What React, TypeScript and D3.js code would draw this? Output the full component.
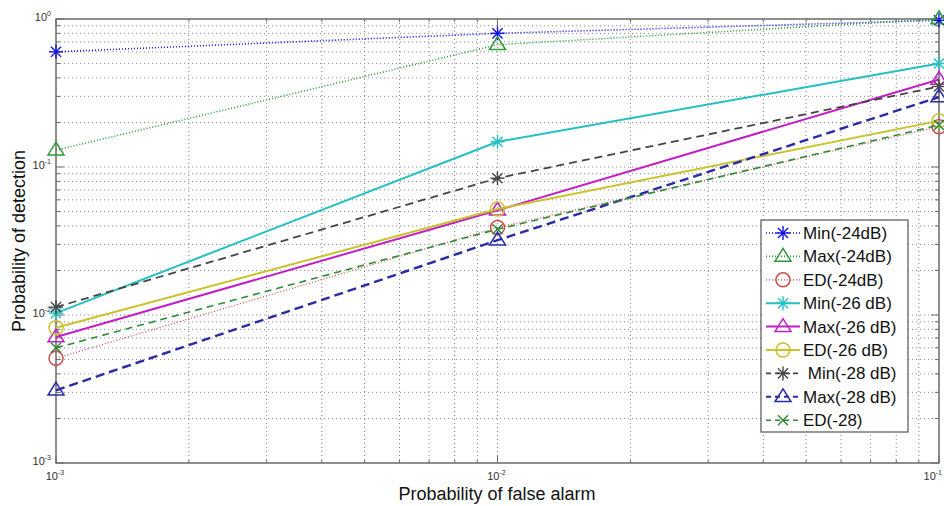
import React from 'react';
import * as d3 from 'd3';

// x values (probability of false alarm)
const pfa = [0.001, 0.01, 0.1];

// detection probabilities per series
const min24 = [0.6, 0.8, 0.98];
const max24 = [0.13, 0.67, 1.0];
const ed24 = [0.0051, 0.039, 0.187];
const min26 = [0.0103, 0.148, 0.5];
const max26 = [0.0071, 0.051, 0.39];
const ed26 = [0.0082, 0.052, 0.205];
const min28 = [0.0113, 0.084, 0.35];
const max28 = [0.0031, 0.032, 0.297];
const ed28 = [0.006, 0.038, 0.192];

const seriesNames = [
  'Min(-24dB)', 'Max(-24dB)', 'ED(-24dB)',
  'Min(-26 dB)', 'Max(-26 dB)', 'ED(-26 dB)',
  ' Min(-28 dB)', 'Max(-28 dB)', 'ED(-28)',
];

const xTickExp = ['-3', '-2', '-1'];
const yTickExp = ['0', '-1', '-2', '-3'];

type Marker = 'star' | 'tri' | 'circle' | 'x';

const styles: { color: string; dash: string; width: number; marker: Marker }[] = [
  { color: '#1010e0', dash: '1,2', width: 1.6, marker: 'star' },
  { color: '#2e9a3a', dash: '1,2', width: 1.6, marker: 'tri' },
  { color: '#d04848', dash: '1,2', width: 1.2, marker: 'circle' },
  { color: '#22c0c4', dash: '', width: 2, marker: 'star' },
  { color: '#c21fc4', dash: '', width: 2, marker: 'tri' },
  { color: '#c9c22a', dash: '', width: 2, marker: 'circle' },
  { color: '#454545', dash: '8,5', width: 1.8, marker: 'star' },
  { color: '#2a2aa8', dash: '9,5', width: 2.4, marker: 'tri' },
  { color: '#2f8a3a', dash: '7,5', width: 1.6, marker: 'x' },
];

const allSeries = [min24, max24, ed24, min26, max26, ed26, min28, max28, ed28];

const W = 944;
const H = 506;
const m = { left: 56, right: 939, top: 19, bottom: 463 };

function MarkerShape({ type, cx, cy, color }: { type: Marker; cx: number; cy: number; color: string }) {
  if (type === 'star') {
    const r = 7;
    const d = r * 0.72;
    return (
      <g stroke={color} strokeWidth={1.4}>
        <line x1={cx - r} y1={cy} x2={cx + r} y2={cy} />
        <line x1={cx} y1={cy - r} x2={cx} y2={cy + r} />
        <line x1={cx - d} y1={cy - d} x2={cx + d} y2={cy + d} />
        <line x1={cx - d} y1={cy + d} x2={cx + d} y2={cy - d} />
      </g>
    );
  }
  if (type === 'x') {
    const d = 5;
    return (
      <g stroke={color} strokeWidth={1.5}>
        <line x1={cx - d} y1={cy - d} x2={cx + d} y2={cy + d} />
        <line x1={cx - d} y1={cy + d} x2={cx + d} y2={cy - d} />
      </g>
    );
  }
  if (type === 'circle') {
    return <circle cx={cx} cy={cy} r={7} fill="none" stroke={color} strokeWidth={1.5} />;
  }
  const s = 8;
  return (
    <path
      d={`M${cx},${cy - s}L${cx + s},${cy + s * 0.6}L${cx - s},${cy + s * 0.6}Z`}
      fill="none"
      stroke={color}
      strokeWidth={1.5}
    />
  );
}

export default function App() {
  const x = d3.scaleLog().domain([1e-3, 1e-1]).range([m.left, m.right]);
  const y = d3.scaleLog().domain([1e-3, 1]).range([m.bottom, m.top]);

  const minorX: number[] = [];
  const minorY: number[] = [];
  for (let e = -3; e < -1; e++) for (let k = 2; k <= 9; k++) minorX.push(k * Math.pow(10, e));
  for (let e = -3; e < 0; e++) for (let k = 2; k <= 9; k++) minorY.push(k * Math.pow(10, e));
  const majorX = [1e-3, 1e-2, 1e-1];
  const majorY = [1e-3, 1e-2, 1e-1, 1];

  const line = d3
    .line<number>()
    .x((_, i) => x(pfa[i]))
    .y((d) => y(d));

  const gridColor = '#8a8a8a';
  const axisColor = '#6a6a6a';
  const font = 'Arial, "Liberation Sans", sans-serif';

  const legX = 761;
  const legY = 220;
  const legW = 147;
  const legH = 212;
  const rowH = 23.4;

  return (
    <div style={{ position: 'absolute', left: 0, top: 0 }}>
      <svg width={W} height={H} style={{ display: 'block', background: '#fff' }} fontFamily={font}>
        {/* grid */}
        <g stroke={gridColor} strokeWidth={1} strokeDasharray="1,3">
          {[...minorX, 1e-2].map((v, i) => (
            <line key={'gx' + i} x1={x(v)} x2={x(v)} y1={m.top} y2={m.bottom} />
          ))}
          {[...minorY, 1e-2, 1e-1].map((v, i) => (
            <line key={'gy' + i} x1={m.left} x2={m.right} y1={y(v)} y2={y(v)} />
          ))}
        </g>

        {/* ticks */}
        <g stroke={axisColor} strokeWidth={1}>
          {minorX.map((v, i) => (
            <g key={'tx' + i}>
              <line x1={x(v)} x2={x(v)} y1={m.bottom} y2={m.bottom - 3} />
              <line x1={x(v)} x2={x(v)} y1={m.top} y2={m.top + 3} />
            </g>
          ))}
          {majorX.map((v, i) => (
            <g key={'tX' + i}>
              <line x1={x(v)} x2={x(v)} y1={m.bottom} y2={m.bottom - 7} />
              <line x1={x(v)} x2={x(v)} y1={m.top} y2={m.top + 7} />
            </g>
          ))}
          {minorY.map((v, i) => (
            <g key={'ty' + i}>
              <line x1={m.left} x2={m.left + 4} y1={y(v)} y2={y(v)} />
              <line x1={m.right} x2={m.right - 4} y1={y(v)} y2={y(v)} />
            </g>
          ))}
          {majorY.map((v, i) => (
            <g key={'tY' + i}>
              <line x1={m.left} x2={m.left + 8} y1={y(v)} y2={y(v)} />
              <line x1={m.right} x2={m.right - 8} y1={y(v)} y2={y(v)} />
            </g>
          ))}
        </g>

        {/* frame */}
        <rect
          x={m.left}
          y={m.top}
          width={m.right - m.left}
          height={m.bottom - m.top}
          fill="none"
          stroke={axisColor}
          strokeWidth={1.5}
        />

        {/* series */}
        {allSeries.map((vals, si) => {
          const st = styles[si];
          return (
            <g key={'s' + si}>
              <path
                d={line(vals) || ''}
                fill="none"
                stroke={st.color}
                strokeWidth={st.width}
                strokeDasharray={st.dash || undefined}
              />
              {vals.map((v, i) => (
                <MarkerShape key={i} type={st.marker} cx={x(pfa[i])} cy={y(v)} color={st.color} />
              ))}
            </g>
          );
        })}

        {/* tick labels */}
        <g fill="#333" fontSize={11}>
          {majorX.map((v, i) => (
            <text
              key={'lx' + i}
              x={i === 2 ? W - 2 : x(v) - 1}
              y={m.bottom + 17}
              textAnchor={i === 2 ? 'end' : 'middle'}
            >
              10<tspan fontSize={7} dy={-5}>{xTickExp[i]}</tspan>
            </text>
          ))}
          {majorY.map((v, i) => (
            <text key={'ly' + i} x={m.left - 5} y={y(majorY[3 - i]) + 2} textAnchor="end">
              10<tspan fontSize={7} dy={-5}>{yTickExp[i]}</tspan>
            </text>
          ))}
        </g>

        {/* axis titles */}
        <text x={497} y={500} textAnchor="middle" fontSize={18} fill="#111">
          Probability of false alarm
        </text>
        <text
          transform={`translate(25,${(m.top + m.bottom) / 2}) rotate(-90)`}
          textAnchor="middle"
          fontSize={18}
          fill="#111"
        >
          Probability of detection
        </text>

        {/* legend */}
        <rect x={legX} y={legY} width={legW} height={legH} fill="#fff" stroke="#555" strokeWidth={1.2} />
        {seriesNames.map((name, i) => {
          const st = styles[i];
          const cy = legY + 13 + i * rowH;
          return (
            <g key={'lg' + i}>
              <line
                x1={766}
                x2={800}
                y1={cy}
                y2={cy}
                stroke={st.color}
                strokeWidth={st.width > 2 ? 2 : st.width}
                strokeDasharray={st.dash ? (st.dash === '1,2' ? '1,2' : '5,4') : undefined}
              />
              <MarkerShape type={st.marker} cx={783} cy={cy} color={st.color} />
              <text x={803} y={cy + 6} fontSize={17} fill="#111" style={{ whiteSpace: 'pre' }}>
                {name}
              </text>
            </g>
          );
        })}
      </svg>
    </div>
  );
}
